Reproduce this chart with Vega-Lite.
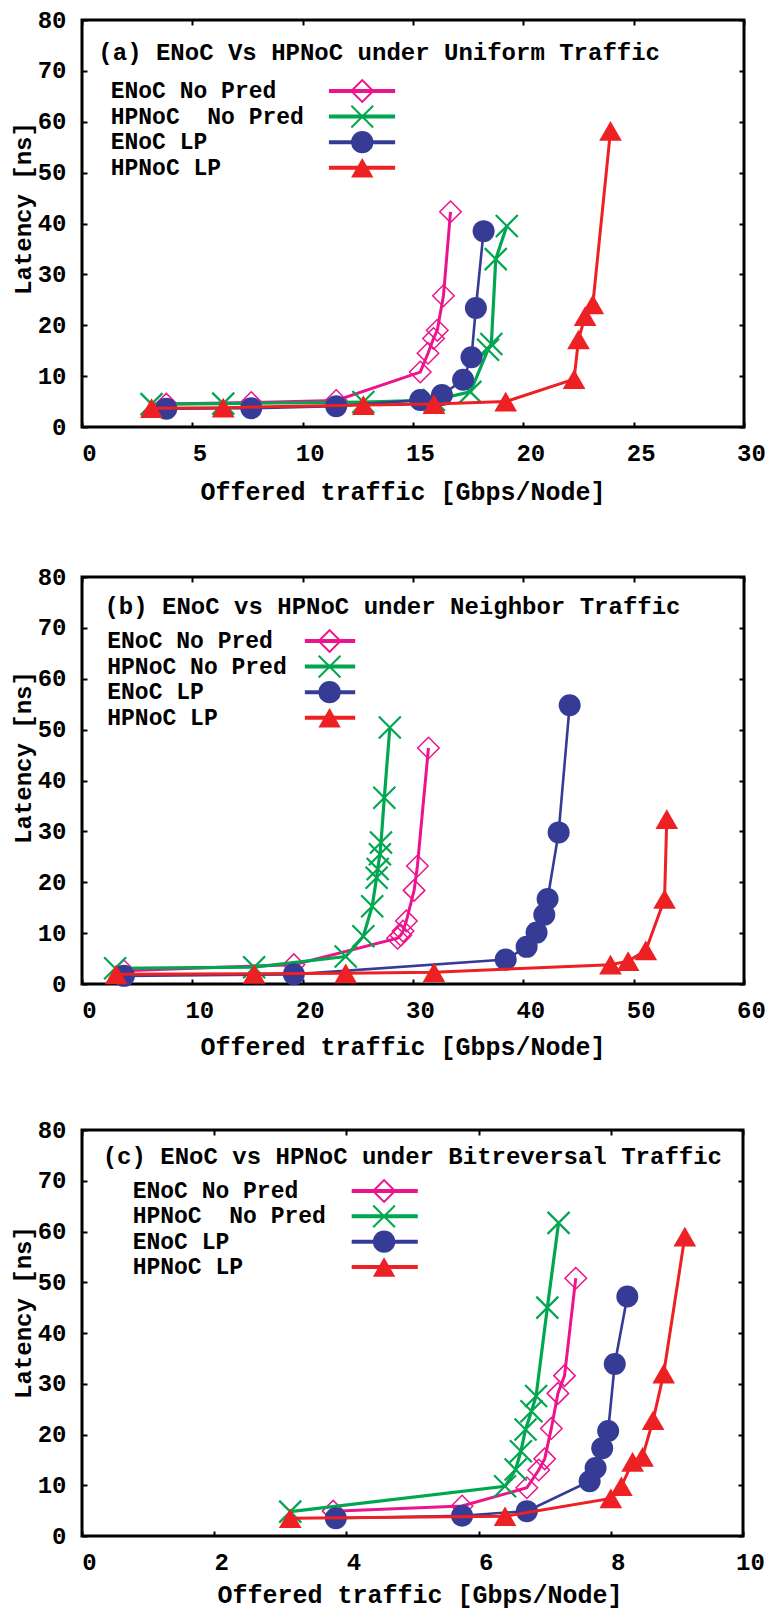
{
  "$schema": "https://vega.github.io/schema/vega-lite/v6.json",
  "padding": {"left": 9, "top": 6, "right": 0, "bottom": 0},
  "background": "white",
  "config": {
    "font": "Liberation Mono",
    "view": {"stroke": "black", "strokeWidth": 3},
    "axis": {"domain": false, "grid": false, "tickColor": "black", "tickWidth": 2, "tickSize": -5,
      "labelFont": "Liberation Mono", "labelFontSize": 24, "labelFontWeight": "bold", "labelColor": "black",
      "labelFlush": false, "labelOverlap": false,
      "titleFont": "Liberation Mono", "titleFontSize": 25, "titleFontWeight": "bold", "titleColor": "black"},
    "axisBottom": {"labelPadding": 31, "labelBaseline": "middle", "labelOffset": 7, "titleBaseline": "middle"},
    "axisLeft": {"labelPadding": 21, "titleBaseline": "middle", "titleFontSize": 24}
  },
  "datasets": {
    "a": [
      {"series": "ENoC No Pred", "traffic": 3.82, "latency": 4.5},
      {"series": "ENoC No Pred", "traffic": 7.67, "latency": 4.8},
      {"series": "ENoC No Pred", "traffic": 11.52, "latency": 5.2},
      {"series": "ENoC No Pred", "traffic": 15.33, "latency": 10.8},
      {"series": "ENoC No Pred", "traffic": 15.68, "latency": 14.5},
      {"series": "ENoC No Pred", "traffic": 15.93, "latency": 17.4},
      {"series": "ENoC No Pred", "traffic": 16.1, "latency": 19.0},
      {"series": "ENoC No Pred", "traffic": 16.38, "latency": 25.8},
      {"series": "ENoC No Pred", "traffic": 16.7, "latency": 42.3},
      {"series": "HPNoC No Pred", "traffic": 3.15, "latency": 4.5},
      {"series": "HPNoC No Pred", "traffic": 6.4, "latency": 4.6},
      {"series": "HPNoC No Pred", "traffic": 12.75, "latency": 4.9},
      {"series": "HPNoC No Pred", "traffic": 15.95, "latency": 5.3},
      {"series": "HPNoC No Pred", "traffic": 17.6, "latency": 6.9},
      {"series": "HPNoC No Pred", "traffic": 18.4, "latency": 15.2},
      {"series": "HPNoC No Pred", "traffic": 18.55, "latency": 16.3},
      {"series": "HPNoC No Pred", "traffic": 18.75, "latency": 33.0},
      {"series": "HPNoC No Pred", "traffic": 19.25, "latency": 39.5},
      {"series": "ENoC LP", "traffic": 3.82, "latency": 3.6},
      {"series": "ENoC LP", "traffic": 7.67, "latency": 3.7},
      {"series": "ENoC LP", "traffic": 11.52, "latency": 4.1},
      {"series": "ENoC LP", "traffic": 15.33, "latency": 5.3},
      {"series": "ENoC LP", "traffic": 16.31, "latency": 6.3},
      {"series": "ENoC LP", "traffic": 17.27, "latency": 9.3},
      {"series": "ENoC LP", "traffic": 17.65, "latency": 13.7},
      {"series": "ENoC LP", "traffic": 17.85, "latency": 23.4},
      {"series": "ENoC LP", "traffic": 18.2, "latency": 38.5},
      {"series": "HPNoC LP", "traffic": 3.15, "latency": 3.7},
      {"series": "HPNoC LP", "traffic": 6.4, "latency": 3.8},
      {"series": "HPNoC LP", "traffic": 12.75, "latency": 4.3},
      {"series": "HPNoC LP", "traffic": 15.95, "latency": 4.5},
      {"series": "HPNoC LP", "traffic": 19.2, "latency": 5.0},
      {"series": "HPNoC LP", "traffic": 22.3, "latency": 9.4},
      {"series": "HPNoC LP", "traffic": 22.5, "latency": 17.2},
      {"series": "HPNoC LP", "traffic": 22.8, "latency": 21.8},
      {"series": "HPNoC LP", "traffic": 23.15, "latency": 24.1},
      {"series": "HPNoC LP", "traffic": 23.95, "latency": 58.2}
    ],
    "b": [
      {"series": "ENoC No Pred", "traffic": 3.8, "latency": 2.6},
      {"series": "ENoC No Pred", "traffic": 19.2, "latency": 3.8},
      {"series": "ENoC No Pred", "traffic": 28.6, "latency": 9.0},
      {"series": "ENoC No Pred", "traffic": 28.9, "latency": 9.6},
      {"series": "ENoC No Pred", "traffic": 29.1, "latency": 10.4},
      {"series": "ENoC No Pred", "traffic": 29.4, "latency": 12.4},
      {"series": "ENoC No Pred", "traffic": 30.1, "latency": 18.4},
      {"series": "ENoC No Pred", "traffic": 30.4, "latency": 23.2},
      {"series": "ENoC No Pred", "traffic": 31.4, "latency": 46.4},
      {"series": "HPNoC No Pred", "traffic": 3.0, "latency": 3.1},
      {"series": "HPNoC No Pred", "traffic": 15.6, "latency": 3.3},
      {"series": "HPNoC No Pred", "traffic": 23.9, "latency": 5.4},
      {"series": "HPNoC No Pred", "traffic": 25.5, "latency": 9.4},
      {"series": "HPNoC No Pred", "traffic": 26.3, "latency": 15.3},
      {"series": "HPNoC No Pred", "traffic": 26.7, "latency": 20.9},
      {"series": "HPNoC No Pred", "traffic": 26.8, "latency": 22.6},
      {"series": "HPNoC No Pred", "traffic": 27.0, "latency": 25.5},
      {"series": "HPNoC No Pred", "traffic": 27.1, "latency": 27.8},
      {"series": "HPNoC No Pred", "traffic": 27.4, "latency": 36.6},
      {"series": "HPNoC No Pred", "traffic": 27.9, "latency": 50.4},
      {"series": "ENoC LP", "traffic": 3.8, "latency": 1.6},
      {"series": "ENoC LP", "traffic": 19.2, "latency": 1.9},
      {"series": "ENoC LP", "traffic": 38.4, "latency": 4.8},
      {"series": "ENoC LP", "traffic": 40.3, "latency": 7.3},
      {"series": "ENoC LP", "traffic": 41.2, "latency": 10.1},
      {"series": "ENoC LP", "traffic": 41.9, "latency": 13.6},
      {"series": "ENoC LP", "traffic": 42.2, "latency": 16.7},
      {"series": "ENoC LP", "traffic": 43.2, "latency": 29.8},
      {"series": "ENoC LP", "traffic": 44.2, "latency": 54.8},
      {"series": "HPNoC LP", "traffic": 3.1, "latency": 1.9},
      {"series": "HPNoC LP", "traffic": 15.6, "latency": 2.0},
      {"series": "HPNoC LP", "traffic": 23.9, "latency": 2.1},
      {"series": "HPNoC LP", "traffic": 31.9, "latency": 2.3},
      {"series": "HPNoC LP", "traffic": 47.9, "latency": 3.8},
      {"series": "HPNoC LP", "traffic": 49.5, "latency": 4.5},
      {"series": "HPNoC LP", "traffic": 51.1, "latency": 6.6},
      {"series": "HPNoC LP", "traffic": 52.8, "latency": 16.7},
      {"series": "HPNoC LP", "traffic": 53.0, "latency": 32.4}
    ],
    "c": [
      {"series": "ENoC No Pred", "traffic": 3.8, "latency": 4.9},
      {"series": "ENoC No Pred", "traffic": 5.75, "latency": 5.9},
      {"series": "ENoC No Pred", "traffic": 6.73, "latency": 9.5},
      {"series": "ENoC No Pred", "traffic": 6.91, "latency": 13.0},
      {"series": "ENoC No Pred", "traffic": 7.0, "latency": 15.2},
      {"series": "ENoC No Pred", "traffic": 7.1, "latency": 21.2},
      {"series": "ENoC No Pred", "traffic": 7.2, "latency": 28.1},
      {"series": "ENoC No Pred", "traffic": 7.3, "latency": 31.6},
      {"series": "ENoC No Pred", "traffic": 7.47, "latency": 50.8},
      {"series": "HPNoC No Pred", "traffic": 3.15, "latency": 4.8},
      {"series": "HPNoC No Pred", "traffic": 6.4, "latency": 9.8},
      {"series": "HPNoC No Pred", "traffic": 6.56, "latency": 13.1},
      {"series": "HPNoC No Pred", "traffic": 6.64, "latency": 16.7},
      {"series": "HPNoC No Pred", "traffic": 6.71, "latency": 21.0},
      {"series": "HPNoC No Pred", "traffic": 6.8, "latency": 24.6},
      {"series": "HPNoC No Pred", "traffic": 6.87, "latency": 27.6},
      {"series": "HPNoC No Pred", "traffic": 7.04, "latency": 45.0},
      {"series": "HPNoC No Pred", "traffic": 7.21, "latency": 61.7},
      {"series": "ENoC LP", "traffic": 3.84, "latency": 3.5},
      {"series": "ENoC LP", "traffic": 5.75, "latency": 4.0},
      {"series": "ENoC LP", "traffic": 6.73, "latency": 4.9},
      {"series": "ENoC LP", "traffic": 7.68, "latency": 10.8},
      {"series": "ENoC LP", "traffic": 7.77, "latency": 13.4},
      {"series": "ENoC LP", "traffic": 7.87, "latency": 17.3},
      {"series": "ENoC LP", "traffic": 7.96, "latency": 20.7},
      {"series": "ENoC LP", "traffic": 8.06, "latency": 33.9},
      {"series": "ENoC LP", "traffic": 8.25, "latency": 47.2},
      {"series": "HPNoC LP", "traffic": 3.15, "latency": 3.5},
      {"series": "HPNoC LP", "traffic": 6.4, "latency": 3.9},
      {"series": "HPNoC LP", "traffic": 8.0, "latency": 7.4},
      {"series": "HPNoC LP", "traffic": 8.16, "latency": 9.8},
      {"series": "HPNoC LP", "traffic": 8.33, "latency": 14.6},
      {"series": "HPNoC LP", "traffic": 8.48, "latency": 15.6},
      {"series": "HPNoC LP", "traffic": 8.64, "latency": 22.8},
      {"series": "HPNoC LP", "traffic": 8.8, "latency": 32.0},
      {"series": "HPNoC LP", "traffic": 9.12, "latency": 59.0}
    ],
    "legend_ac": [
      {"series": "ENoC No Pred", "label": "ENoC No Pred", "order": 0},
      {"series": "HPNoC No Pred", "label": "HPNoC\u00a0 No Pred", "order": 1},
      {"series": "ENoC LP", "label": "ENoC LP", "order": 2},
      {"series": "HPNoC LP", "label": "HPNoC LP", "order": 3}
    ],
    "legend_b": [
      {"series": "ENoC No Pred", "label": "ENoC No Pred", "order": 0},
      {"series": "HPNoC No Pred", "label": "HPNoC No Pred", "order": 1},
      {"series": "ENoC LP", "label": "ENoC LP", "order": 2},
      {"series": "HPNoC LP", "label": "HPNoC LP", "order": 3}
    ]
  },
  "spacing": 150,
  "bounds": "flush",
  "vconcat": [
    {
      "width": 662, "height": 407,
      "resolve": {"scale": {"y": "independent"}, "axis": {"x": "independent", "y": "independent"}},
      "layer": [
        {
          "data": {"name": "a"},
          "encoding": {
            "x": {"field": "traffic", "type": "quantitative", "scale": {"domain": [0, 30], "nice": false, "zero": false},
              "axis": {"values": [0, 5, 10, 15, 20, 25, 30], "title": "Offered traffic [Gbps/Node]", "titleX": 320.5, "titleY": 64}},
            "y": {"field": "latency", "type": "quantitative", "scale": {"domain": [0, 80], "nice": false, "zero": false},
              "axis": {"values": [0, 10, 20, 30, 40, 50, 60, 70, 80], "title": "Latency [ns]", "titleX": -59, "titleY": 188}},
            "color": {"field": "series", "type": "nominal", "legend": null,
              "scale": {"domain": ["ENoC No Pred", "HPNoC No Pred", "ENoC LP", "HPNoC LP"], "range": ["#EC148C", "#00A650", "#363C96", "#ED2024"]}}
          },
          "layer": [
            {"transform": [{"filter": {"field": "series", "equal": "ENoC No Pred"}}], "mark": {"type": "line", "strokeWidth": 3}},
            {"transform": [{"filter": {"field": "series", "equal": "ENoC No Pred"}}], "mark": {"type": "point", "shape": "diamond", "filled": false, "size": 462, "strokeWidth": 1.5, "opacity": 1}},
            {"transform": [{"filter": {"field": "series", "equal": "HPNoC No Pred"}}], "mark": {"type": "line", "strokeWidth": 3.2}},
            {"transform": [{"filter": {"field": "series", "equal": "HPNoC No Pred"}}], "mark": {"type": "point", "shape": "M-1,-1L1,1M-1,1L1,-1", "filled": false, "size": 484, "strokeWidth": 2.2, "opacity": 1}},
            {"transform": [{"filter": {"field": "series", "equal": "ENoC LP"}}], "mark": {"type": "line", "strokeWidth": 2.6}},
            {"transform": [{"filter": {"field": "series", "equal": "ENoC LP"}}], "mark": {"type": "point", "shape": "circle", "filled": true, "size": 484, "opacity": 1}},
            {"transform": [{"filter": {"field": "series", "equal": "HPNoC LP"}}], "mark": {"type": "line", "strokeWidth": 3}},
            {"transform": [{"filter": {"field": "series", "equal": "HPNoC LP"}}], "mark": {"type": "point", "shape": "triangle-up", "filled": true, "size": 515, "opacity": 1}}
          ]
        },
        {
          "data": {"values": [{"t": "(a) ENoC Vs HPNoC under Uniform Traffic"}]},
          "mark": {"type": "text", "align": "left", "baseline": "middle", "font": "Liberation Mono", "fontSize": 24, "fontWeight": "bold", "color": "black"},
          "encoding": {
            "x": {"datum": 0.74, "type": "quantitative", "axis": {"orient": "top", "labels": false, "title": null, "values": [0, 5, 10, 15, 20, 25, 30]}},
            "y": {"datum": 73.43, "type": "quantitative", "scale": {"domain": [0, 80], "nice": false, "zero": false},
              "axis": {"orient": "right", "labels": false, "title": null, "values": [0, 10, 20, 30, 40, 50, 60, 70, 80]}},
            "text": {"field": "t"}
          }
        },
        {
          "data": {"name": "legend_ac"},
          "encoding": {
            "y": {"field": "order", "type": "quantitative", "scale": {"domain": [-2.777, 13.14], "reverse": true, "nice": false, "zero": false}, "axis": null}
          },
          "layer": [
            {"mark": {"type": "text", "align": "left", "baseline": "middle", "font": "Liberation Mono", "fontSize": 23, "fontWeight": "bold", "color": "black"},
              "encoding": {"x": {"datum": 1.3, "type": "quantitative", "axis": null}, "text": {"field": "label"}}},
            {"mark": {"type": "rule", "strokeWidth": 4},
              "encoding": {"x": {"datum": 11.19, "type": "quantitative", "axis": null}, "x2": {"datum": 14.19},
                "color": {"field": "series", "type": "nominal", "legend": null}}},
            {"transform": [{"filter": {"field": "series", "oneOf": ["ENoC No Pred", "HPNoC No Pred"]}}],
              "mark": {"type": "point", "filled": false, "size": 475, "strokeWidth": 2, "opacity": 1},
              "encoding": {"x": {"datum": 12.7, "type": "quantitative", "axis": null},
                "color": {"field": "series", "type": "nominal", "legend": null},
                "shape": {"field": "series", "type": "nominal", "legend": null,
                  "scale": {"domain": ["ENoC No Pred", "HPNoC No Pred", "ENoC LP", "HPNoC LP"], "range": ["diamond", "M-1,-1L1,1M-1,1L1,-1", "circle", "triangle-up"]}}}},
            {"transform": [{"filter": {"field": "series", "oneOf": ["ENoC LP", "HPNoC LP"]}}],
              "mark": {"type": "point", "filled": true, "size": 500, "opacity": 1},
              "encoding": {"x": {"datum": 12.7, "type": "quantitative", "axis": null},
                "color": {"field": "series", "type": "nominal", "legend": null},
                "shape": {"field": "series", "type": "nominal", "legend": null,
                  "scale": {"domain": ["ENoC No Pred", "HPNoC No Pred", "ENoC LP", "HPNoC LP"], "range": ["diamond", "M-1,-1L1,1M-1,1L1,-1", "circle", "triangle-up"]}}}}
          ]
        }
      ]
    },
    {
      "spacing": 146,
      "bounds": "flush",
      "vconcat": [
        {
          "width": 662, "height": 407,
          "resolve": {"scale": {"y": "independent"}, "axis": {"x": "independent", "y": "independent"}},
          "layer": [
            {
              "data": {"name": "b"},
              "encoding": {
                "x": {"field": "traffic", "type": "quantitative", "scale": {"domain": [0, 60], "nice": false, "zero": false},
                  "axis": {"values": [0, 10, 20, 30, 40, 50, 60], "title": "Offered traffic [Gbps/Node]", "titleX": 320.5, "titleY": 62}},
                "y": {"field": "latency", "type": "quantitative", "scale": {"domain": [0, 80], "nice": false, "zero": false},
                  "axis": {"values": [0, 10, 20, 30, 40, 50, 60, 70, 80], "title": "Latency [ns]", "titleX": -59, "titleY": 180}},
                "color": {"field": "series", "type": "nominal", "legend": null,
                  "scale": {"domain": ["ENoC No Pred", "HPNoC No Pred", "ENoC LP", "HPNoC LP"], "range": ["#EC148C", "#00A650", "#363C96", "#ED2024"]}}
              },
              "layer": [
                {"transform": [{"filter": {"field": "series", "equal": "ENoC No Pred"}}], "mark": {"type": "line", "strokeWidth": 3}},
                {"transform": [{"filter": {"field": "series", "equal": "ENoC No Pred"}}], "mark": {"type": "point", "shape": "diamond", "filled": false, "size": 462, "strokeWidth": 1.5, "opacity": 1}},
                {"transform": [{"filter": {"field": "series", "equal": "HPNoC No Pred"}}], "mark": {"type": "line", "strokeWidth": 3.2}},
                {"transform": [{"filter": {"field": "series", "equal": "HPNoC No Pred"}}], "mark": {"type": "point", "shape": "M-1,-1L1,1M-1,1L1,-1", "filled": false, "size": 484, "strokeWidth": 2.2, "opacity": 1}},
                {"transform": [{"filter": {"field": "series", "equal": "ENoC LP"}}], "mark": {"type": "line", "strokeWidth": 2.6}},
                {"transform": [{"filter": {"field": "series", "equal": "ENoC LP"}}], "mark": {"type": "point", "shape": "circle", "filled": true, "size": 484, "opacity": 1}},
                {"transform": [{"filter": {"field": "series", "equal": "HPNoC LP"}}], "mark": {"type": "line", "strokeWidth": 3}},
                {"transform": [{"filter": {"field": "series", "equal": "HPNoC LP"}}], "mark": {"type": "point", "shape": "triangle-up", "filled": true, "size": 515, "opacity": 1}}
              ]
            },
            {
              "data": {"values": [{"t": "(b) ENoC vs HPNoC under Neighbor Traffic"}]},
              "mark": {"type": "text", "align": "left", "baseline": "middle", "font": "Liberation Mono", "fontSize": 24, "fontWeight": "bold", "color": "black"},
              "encoding": {
                "x": {"datum": 2.03, "type": "quantitative", "axis": {"orient": "top", "labels": false, "title": null, "values": [0, 10, 20, 30, 40, 50, 60]}},
                "y": {"datum": 74.1, "type": "quantitative", "scale": {"domain": [0, 80], "nice": false, "zero": false},
                  "axis": {"orient": "right", "labels": false, "title": null, "values": [0, 10, 20, 30, 40, 50, 60, 70, 80]}},
                "text": {"field": "t"}
              }
            },
            {
              "data": {"name": "legend_b"},
              "encoding": {
                "y": {"field": "order", "type": "quantitative", "scale": {"domain": [-2.503, 13.414], "reverse": true, "nice": false, "zero": false}, "axis": null}
              },
              "layer": [
                {"mark": {"type": "text", "align": "left", "baseline": "middle", "font": "Liberation Mono", "fontSize": 23, "fontWeight": "bold", "color": "black"},
                  "encoding": {"x": {"datum": 2.29, "type": "quantitative", "axis": null}, "text": {"field": "label"}}},
                {"mark": {"type": "rule", "strokeWidth": 4},
                  "encoding": {"x": {"datum": 20.2, "type": "quantitative", "axis": null}, "x2": {"datum": 24.76},
                    "color": {"field": "series", "type": "nominal", "legend": null}}},
                {"transform": [{"filter": {"field": "series", "oneOf": ["ENoC No Pred", "HPNoC No Pred"]}}],
                  "mark": {"type": "point", "filled": false, "size": 475, "strokeWidth": 2, "opacity": 1},
                  "encoding": {"x": {"datum": 22.44, "type": "quantitative", "axis": null},
                    "color": {"field": "series", "type": "nominal", "legend": null},
                    "shape": {"field": "series", "type": "nominal", "legend": null,
                      "scale": {"domain": ["ENoC No Pred", "HPNoC No Pred", "ENoC LP", "HPNoC LP"], "range": ["diamond", "M-1,-1L1,1M-1,1L1,-1", "circle", "triangle-up"]}}}},
                {"transform": [{"filter": {"field": "series", "oneOf": ["ENoC LP", "HPNoC LP"]}}],
                  "mark": {"type": "point", "filled": true, "size": 500, "opacity": 1},
                  "encoding": {"x": {"datum": 22.44, "type": "quantitative", "axis": null},
                    "color": {"field": "series", "type": "nominal", "legend": null},
                    "shape": {"field": "series", "type": "nominal", "legend": null,
                      "scale": {"domain": ["ENoC No Pred", "HPNoC No Pred", "ENoC LP", "HPNoC LP"], "range": ["diamond", "M-1,-1L1,1M-1,1L1,-1", "circle", "triangle-up"]}}}}
              ]
            }
          ]
        },
        {
          "width": 661, "height": 406,
          "resolve": {"scale": {"y": "independent"}, "axis": {"x": "independent", "y": "independent"}},
          "layer": [
            {
              "data": {"name": "c"},
              "encoding": {
                "x": {"field": "traffic", "type": "quantitative", "scale": {"domain": [0, 10], "nice": false, "zero": false},
                  "axis": {"values": [0, 2, 4, 6, 8, 10], "title": "Offered traffic [Gbps/Node]", "titleX": 337.5, "titleY": 58}},
                "y": {"field": "latency", "type": "quantitative", "scale": {"domain": [0, 80], "nice": false, "zero": false},
                  "axis": {"values": [0, 10, 20, 30, 40, 50, 60, 70, 80], "title": "Latency [ns]", "titleX": -59, "titleY": 182}},
                "color": {"field": "series", "type": "nominal", "legend": null,
                  "scale": {"domain": ["ENoC No Pred", "HPNoC No Pred", "ENoC LP", "HPNoC LP"], "range": ["#EC148C", "#00A650", "#363C96", "#ED2024"]}}
              },
              "layer": [
                {"transform": [{"filter": {"field": "series", "equal": "ENoC No Pred"}}], "mark": {"type": "line", "strokeWidth": 3}},
                {"transform": [{"filter": {"field": "series", "equal": "ENoC No Pred"}}], "mark": {"type": "point", "shape": "diamond", "filled": false, "size": 462, "strokeWidth": 1.5, "opacity": 1}},
                {"transform": [{"filter": {"field": "series", "equal": "HPNoC No Pred"}}], "mark": {"type": "line", "strokeWidth": 3.2}},
                {"transform": [{"filter": {"field": "series", "equal": "HPNoC No Pred"}}], "mark": {"type": "point", "shape": "M-1,-1L1,1M-1,1L1,-1", "filled": false, "size": 484, "strokeWidth": 2.2, "opacity": 1}},
                {"transform": [{"filter": {"field": "series", "equal": "ENoC LP"}}], "mark": {"type": "line", "strokeWidth": 2.6}},
                {"transform": [{"filter": {"field": "series", "equal": "ENoC LP"}}], "mark": {"type": "point", "shape": "circle", "filled": true, "size": 484, "opacity": 1}},
                {"transform": [{"filter": {"field": "series", "equal": "HPNoC LP"}}], "mark": {"type": "line", "strokeWidth": 3}},
                {"transform": [{"filter": {"field": "series", "equal": "HPNoC LP"}}], "mark": {"type": "point", "shape": "triangle-up", "filled": true, "size": 515, "opacity": 1}}
              ]
            },
            {
              "data": {"values": [{"t": "(c) ENoC vs HPNoC under Bitreversal Traffic"}]},
              "mark": {"type": "text", "align": "left", "baseline": "middle", "font": "Liberation Mono", "fontSize": 24, "fontWeight": "bold", "color": "black"},
              "encoding": {
                "x": {"datum": 0.313, "type": "quantitative", "axis": {"orient": "top", "labels": false, "title": null, "values": [0, 2, 4, 6, 8, 10]}},
                "y": {"datum": 74.68, "type": "quantitative", "scale": {"domain": [0, 80], "nice": false, "zero": false},
                  "axis": {"orient": "right", "labels": false, "title": null, "values": [0, 10, 20, 30, 40, 50, 60, 70, 80]}},
                "text": {"field": "t"}
              }
            },
            {
              "data": {"name": "legend_ac"},
              "encoding": {
                "y": {"field": "order", "type": "quantitative", "scale": {"domain": [-2.408, 13.62], "reverse": true, "nice": false, "zero": false}, "axis": null}
              },
              "layer": [
                {"mark": {"type": "text", "align": "left", "baseline": "middle", "font": "Liberation Mono", "fontSize": 23, "fontWeight": "bold", "color": "black"},
                  "encoding": {"x": {"datum": 0.766, "type": "quantitative", "axis": null}, "text": {"field": "label"}}},
                {"mark": {"type": "rule", "strokeWidth": 4},
                  "encoding": {"x": {"datum": 4.08, "type": "quantitative", "axis": null}, "x2": {"datum": 5.08},
                    "color": {"field": "series", "type": "nominal", "legend": null}}},
                {"transform": [{"filter": {"field": "series", "oneOf": ["ENoC No Pred", "HPNoC No Pred"]}}],
                  "mark": {"type": "point", "filled": false, "size": 475, "strokeWidth": 2, "opacity": 1},
                  "encoding": {"x": {"datum": 4.57, "type": "quantitative", "axis": null},
                    "color": {"field": "series", "type": "nominal", "legend": null},
                    "shape": {"field": "series", "type": "nominal", "legend": null,
                      "scale": {"domain": ["ENoC No Pred", "HPNoC No Pred", "ENoC LP", "HPNoC LP"], "range": ["diamond", "M-1,-1L1,1M-1,1L1,-1", "circle", "triangle-up"]}}}},
                {"transform": [{"filter": {"field": "series", "oneOf": ["ENoC LP", "HPNoC LP"]}}],
                  "mark": {"type": "point", "filled": true, "size": 500, "opacity": 1},
                  "encoding": {"x": {"datum": 4.57, "type": "quantitative", "axis": null},
                    "color": {"field": "series", "type": "nominal", "legend": null},
                    "shape": {"field": "series", "type": "nominal", "legend": null,
                      "scale": {"domain": ["ENoC No Pred", "HPNoC No Pred", "ENoC LP", "HPNoC LP"], "range": ["diamond", "M-1,-1L1,1M-1,1L1,-1", "circle", "triangle-up"]}}}}
              ]
            }
          ]
        }
      ]
    }
  ]
}
